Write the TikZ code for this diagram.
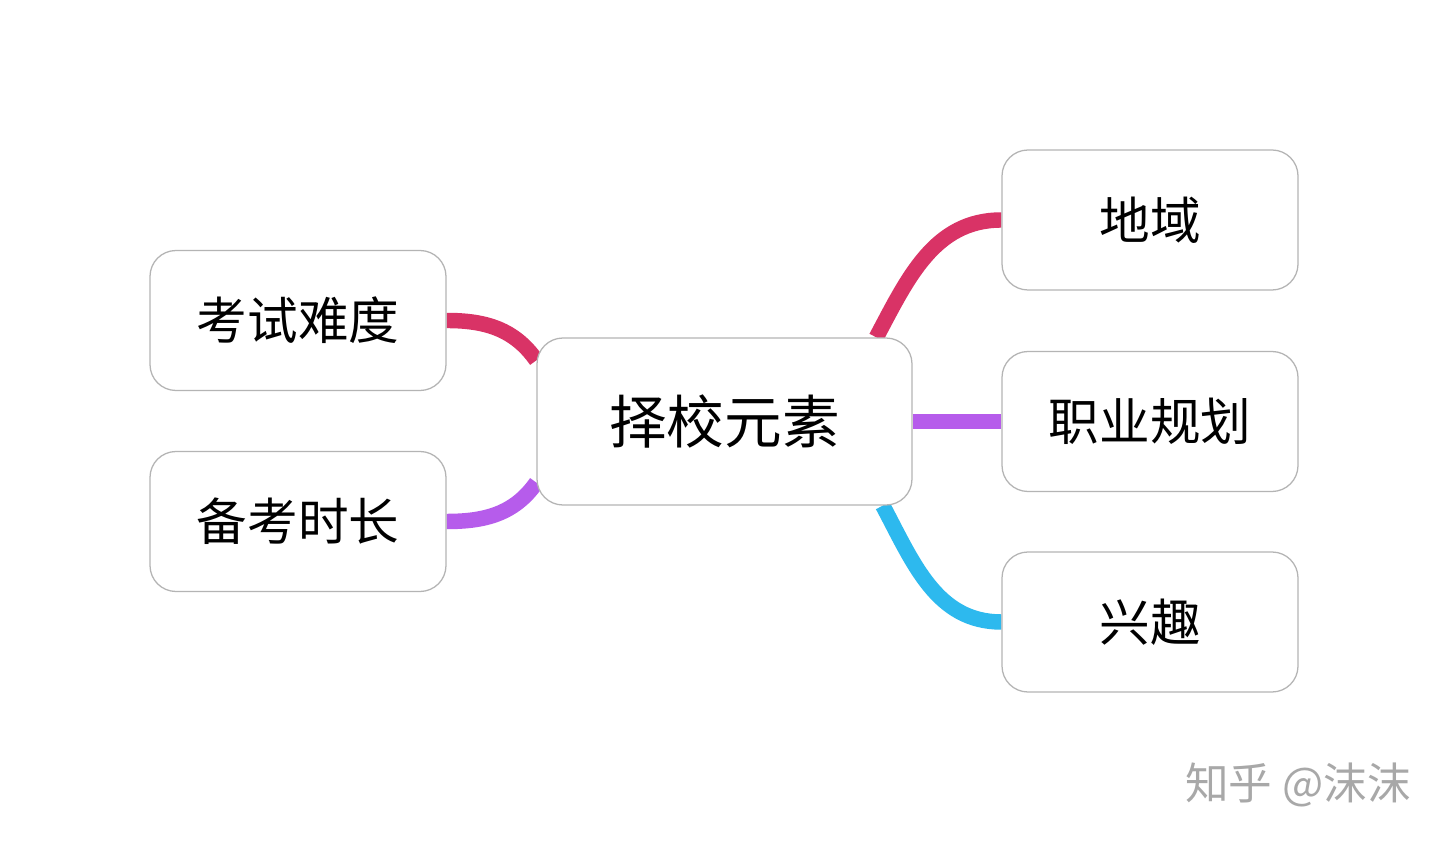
\documentclass[tikz,border=0pt]{standalone}
\usepackage{fontspec}
\setmainfont{Noto Sans CJK SC}
\usetikzlibrary{backgrounds}
\definecolor{linkred}{HTML}{D93366}
\definecolor{linkpurple}{HTML}{B65CEB}
\definecolor{linkblue}{HTML}{2DB9EE}
\definecolor{boxgray}{HTML}{B4B4B4}
\definecolor{markgray}{HTML}{A8A8A8}
\tikzset{
  topic/.style={draw=boxgray, line width=0.9pt, fill=white, rounded corners=0.65cm,
    minimum width=7.4cm, minimum height=3.5cm, font=\fontsize{36}{40}\selectfont},
  root/.style={topic, minimum width=9.375cm, minimum height=4.175cm,
    font=\fontsize{41}{46}\selectfont},
  link/.style={line width=11pt}
}
\begin{document}
\begin{tikzpicture}
        \useasboundingbox (0,0) rectangle (36.225,21.075);
        % topics
        \node[root] (ze) at (18.1125,10.5375) {择校元素};
        \node[topic] (kao) at (7.45,13.0625) {考试难度};
        \node[topic] (bei) at (7.45,8.0375) {备考时长};
        \node[topic] (di) at (28.75,15.575) {地域};
        \node[topic] (zy) at (28.75,10.5375) {职业规划};
        \node[topic] (xq) at (28.75,5.525) {兴趣};
        % links
        \begin{scope}[on background layer]
        \fill[white] (0,0) rectangle (36.225,21.075);
        \draw[link,linkred] (kao.east) to[out=0,in=125] (ze.162);
        \draw[link,linkpurple] (bei.east) to[out=0,in=235] (ze.198);
        \draw[link,linkred] (ze.29) to[out=62,in=180] (di.west);
        \draw[link,linkpurple] (ze.east) -- (zy.west);
        \draw[link,linkblue] (ze.-28) to[out=-62,in=180] (xq.west);
        \end{scope}
        % watermark
        \node[text=markgray, font=\fontsize{31}{34}\selectfont] (mark) at (32.45,1.45) {知乎 @沫沫};
\end{tikzpicture}
\end{document}
